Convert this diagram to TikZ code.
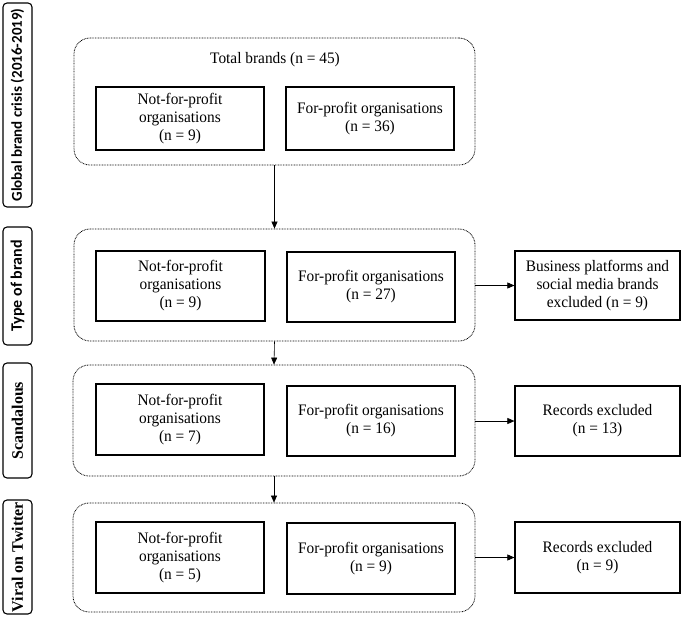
\documentclass[tikz,border=0pt]{standalone}
\usepackage{fontspec}
\setmainfont[FakeStretch=0.96]{Liberation Serif}
\newfontfamily\calib{Carlito}
\newfontfamily\serifbold{Liberation Serif}
\usetikzlibrary{arrows.meta}
\begin{document}
\begin{tikzpicture}[x=1pt,y=-1pt,
 lab/.style={draw,rounded corners=4pt,line width=1.1pt,rotate=90,inner sep=0pt,minimum height=29pt,align=center},
 labsans/.style={lab,font=\calib\bfseries\fontsize{15}{17}\selectfont},
 labserif/.style={lab,font=\serifbold\bfseries\fontsize{16}{18}\selectfont},
 grp/.style={draw,dash pattern=on 0.8pt off 0.8pt,rounded corners=16pt,line width=0.8pt,inner sep=0pt},
 box/.style={draw,line width=1.2pt,inner sep=0pt,align=center,font=\fontsize{16}{18}\selectfont},
 ttl/.style={inner sep=0pt,font=\fontsize{16}{18}\selectfont},
 arr/.style={-{Triangle[length=7pt,width=6pt]},line width=0.6pt}]
\useasboundingbox (0,0) rectangle (685,618);
% side labels
\node[labsans,minimum width=204pt] (l1) at (17.5,105) {Global brand crisis (2016-2019)};
\node[labsans,minimum width=118pt,font=\calib\bfseries\fontsize{16}{18}\selectfont] (l2) at (17.5,286) {Type of brand};
\node[labserif,minimum width=115pt] (l3) at (17.5,420.5) {Scandalous};
\node[labserif,minimum width=114pt] (l4) at (17.5,557) {Viral on Twitter};
% groups
\node[grp,minimum width=401pt,minimum height=127pt] (g1) at (274.5,101.5) {};
\node[grp,minimum width=401pt,minimum height=112pt] (g2) at (274.5,285) {};
\node[grp,minimum width=402pt,minimum height=111pt] (g3) at (274,420.5) {};
\node[grp,minimum width=402pt,minimum height=109pt] (g4) at (274,557.5) {};
% group 1
\node[ttl] (t1) at (275,60) {Total brands (n = 45)};
\node[box,minimum width=168pt,minimum height=63pt] (a1) at (180,118.5) {Not-for-profit\\organisations\\(n = 9)};
\node[box,minimum width=168pt,minimum height=63pt] (b1) at (370,118.5) {For-profit organisations\\(n = 36)};
% group 2
\node[box,minimum width=169pt,minimum height=70pt] (a2) at (180.5,286) {Not-for-profit\\organisations\\(n = 9)};
\node[box,minimum width=168pt,minimum height=70pt] (b2) at (371,287) {For-profit organisations\\(n = 27)};
\node[box,minimum width=165pt,minimum height=69pt] (e2) at (597.5,285.5) {Business platforms and\\social media brands\\excluded (n = 9)};
% group 3
\node[box,minimum width=168pt,minimum height=71pt] (a3) at (180,419.5) {Not-for-profit\\organisations\\(n = 7)};
\node[box,minimum width=168pt,minimum height=70pt] (b3) at (371,421) {For-profit organisations\\(n = 16)};
\node[box,minimum width=165pt,minimum height=70pt] (e3) at (597.5,421) {Records excluded\\(n = 13)};
% group 4
\node[box,minimum width=168pt,minimum height=71pt] (a4) at (180,557.5) {Not-for-profit\\organisations\\(n = 5)};
\node[box,minimum width=168pt,minimum height=71pt] (b4) at (371,558.5) {For-profit organisations\\(n = 9)};
\node[box,minimum width=165pt,minimum height=71pt] (e4) at (597.5,557.5) {Records excluded\\(n = 9)};
% arrows
\draw[arr] (g1.south) -- (g2.north);
\draw[arr] (g2.south) -- (g3.north);
\draw[arr] (g3.south) -- (g4.north);
\draw[arr] (g2.east |- e2) -- (e2.west);
\draw[arr] (g3.east |- e3) -- (e3.west);
\draw[arr] (g4.east |- e4) -- (e4.west);
\end{tikzpicture}
\end{document}
